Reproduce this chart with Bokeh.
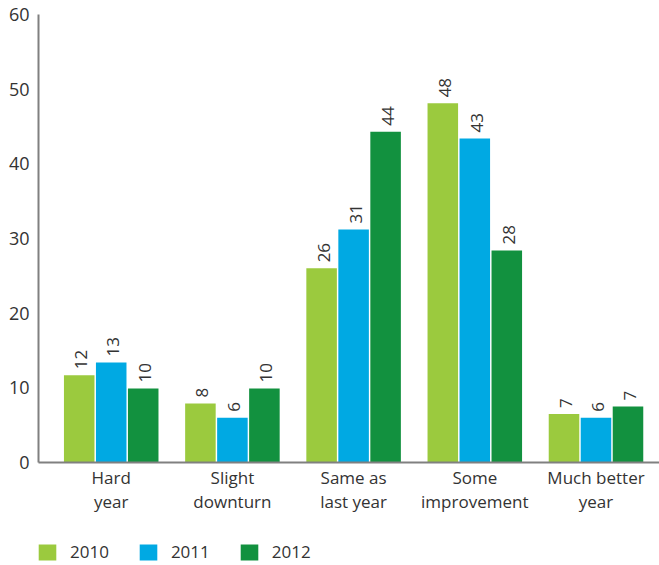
import numpy as np
from bokeh.plotting import figure
from bokeh.layouts import column
from bokeh.core.properties import value
from bokeh.models import ColumnDataSource, LabelSet, Legend, LegendItem, FixedTicker, Range1d
from bokeh.embed import file_html
from bokeh.resources import INLINE

categories = ["Hard\nyear", "Slight\ndownturn", "Same as\nlast year", "Some\nimprovement", "Much better\nyear"]
years = ["2010", "2011", "2012"]
v2010 = [11.7, 7.9, 26.0, 48.1, 6.5]
v2011 = [13.4, 6.0, 31.2, 43.4, 6.0]
v2012 = [9.9, 9.9, 44.3, 28.4, 7.5]
labels2010 = ["12", "8", "26", "48", "7"]
labels2011 = ["13", "6", "31", "43", "6"]
labels2012 = ["10", "10", "44", "28", "7"]
y_ticks = [0, 10, 20, 30, 40, 50, 60]
colors = ["#9BCA3E", "#00A9E3", "#12913F"]

FONT = "Open Sans"
TXT = "#333333"

p = figure(width=659, height=515, x_range=Range1d(-0.6, 4.524), y_range=Range1d(0, 60),
           output_backend="svg", toolbar_location=None,
           min_border_left=38, min_border_top=14, min_border_right=0, min_border_bottom=52)
p.outline_line_color = None
p.xgrid.visible = False
p.ygrid.visible = False

series = [v2010, v2011, v2012]
labels = [labels2010, labels2011, labels2012]
offsets = [-0.264, 0.0, 0.264]
for vals, labs, off, col in zip(series, labels, offsets, colors):
    xs = [i + off for i in range(len(categories))]
    src = ColumnDataSource(dict(x=xs, top=vals, lab=labs))
    p.vbar(x="x", top="top", width=0.252, source=src, fill_color=col, line_color=None)
    ls = LabelSet(x="x", y="top", text="lab", source=src, angle=90, angle_units="deg",
                  text_align="left", text_baseline="middle", x_offset=2, y_offset=6,
                  text_font=value(FONT), text_font_size="17px", text_color=TXT)
    p.add_layout(ls)

p.xaxis.ticker = FixedTicker(ticks=list(range(len(categories))))
p.xaxis.major_label_overrides = {i: c for i, c in enumerate(categories)}
p.yaxis.ticker = FixedTicker(ticks=y_ticks)
for ax in (p.xaxis, p.yaxis):
    ax.axis_line_color = "#808080"
    ax.axis_line_width = 2
    ax.major_tick_line_color = None
    ax.minor_tick_line_color = None
    ax.major_label_text_font = FONT
    ax.major_label_text_font_size = "17px"
    ax.major_label_text_color = TXT
p.yaxis.major_label_text_font_size = "18px"
p.xaxis.major_label_text_line_height = 1.05
p.xaxis.major_label_standoff = -3
p.yaxis.major_label_standoff = 3

# legend strip below the chart (swatch renderers sit outside the visible range)
lg = figure(width=659, height=50, x_range=Range1d(0, 1), y_range=Range1d(0, 1),
            output_backend="svg", toolbar_location=None,
            min_border_left=0, min_border_top=0, min_border_right=0, min_border_bottom=0)
lg.axis.visible = False
lg.grid.visible = False
lg.outline_line_color = None
items = []
for col, yr in zip(colors, years):
    r = lg.vbar(x=[5], top=[1], width=0.1, fill_color=col, line_color=None)
    items.append(LegendItem(label=yr, renderers=[r]))
legend = Legend(items=items, orientation="horizontal", location=(-2, 2),
                glyph_width=22, glyph_height=20, label_standoff=12, spacing=28,
                padding=0, margin=0, border_line_color=None, background_fill_alpha=0,
                label_text_font=FONT, label_text_font_size="17px", label_text_color=TXT)
lg.add_layout(legend, "center")

layout = column(p, lg, spacing=0)
open("out.html", "w").write(file_html(layout, INLINE))
